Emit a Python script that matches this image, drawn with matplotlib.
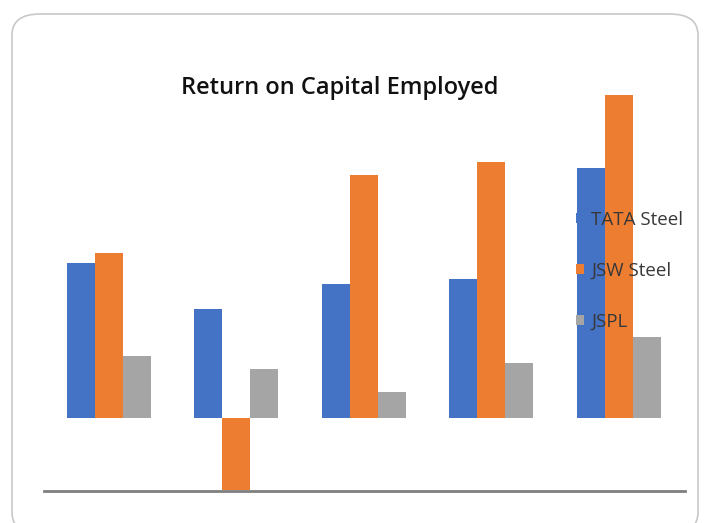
import matplotlib
matplotlib.use("Agg")
import matplotlib.pyplot as plt
import numpy as np
from matplotlib.patches import FancyBboxPatch

# ROCE values (%), one entry per period
periods = ["P1", "P2", "P3", "P4", "P5"]
tata_steel = [11.5, 8.1, 9.9, 10.3, 18.5]
jsw_steel = [12.2, -5.3, 18.0, 19.0, 23.9]
jspl = [4.6, 3.6, 1.9, 4.1, 6.0]

series_names = ["TATA Steel", "JSW Steel", "JSPL"]
colors = ["#4472C4", "#ED7D31", "#A5A5A5"]

plt.rcParams["font.family"] = ["Open Sans", "DejaVu Sans"]

fig = plt.figure(figsize=(7.07, 5.23), dpi=100)

# rounded card behind the chart
card = FancyBboxPatch(
    (12 / 707, -0.02), 686 / 707, 1 - 14 / 523 + 0.02,
    boxstyle="round,pad=0,rounding_size=0.04",
    transform=fig.transFigure, facecolor="white",
    edgecolor="#c8c8c8", linewidth=1.2, zorder=-10,
)
fig.patches.append(card)

ax = fig.add_axes([44 / 707, (523 - 491) / 523, 641 / 707, 401 / 523])
ax.set_facecolor("none")
ax.set_zorder(5)

x = np.arange(len(periods))
w = 0.22
handles = []
for i, (vals, name, c) in enumerate(zip([tata_steel, jsw_steel, jspl], series_names, colors)):
    h = ax.bar(x + (i - 1) * w, vals, width=w, color=c, label=name)
    handles.append(h)

ax.set_xlim(-0.51, 4.52)
ax.set_ylim(-5.4, 24.3)
for side in ["top", "left", "right"]:
    ax.spines[side].set_visible(False)
ax.spines["bottom"].set_color("#7f7f7f")
ax.spines["bottom"].set_linewidth(2)
ax.set_xticks([])
ax.set_yticks([])

fig.text(340 / 707, 1 - 88 / 523, "Return on Capital Employed",
         ha="center", va="center", fontsize=17, color="#111111",
         fontweight="semibold")

leg = ax.legend(
    handles=handles, loc="upper left",
    bbox_to_anchor=(576 / 707, 1 - 211 / 523), bbox_transform=fig.transFigure,
    frameon=False, fontsize=13.5, labelspacing=1.75, borderpad=0,
    borderaxespad=0, handlelength=0.42, handleheight=0.42, handletextpad=0.4,
    labelcolor="#383838",
)

fig.savefig("out.png", dpi=100)
